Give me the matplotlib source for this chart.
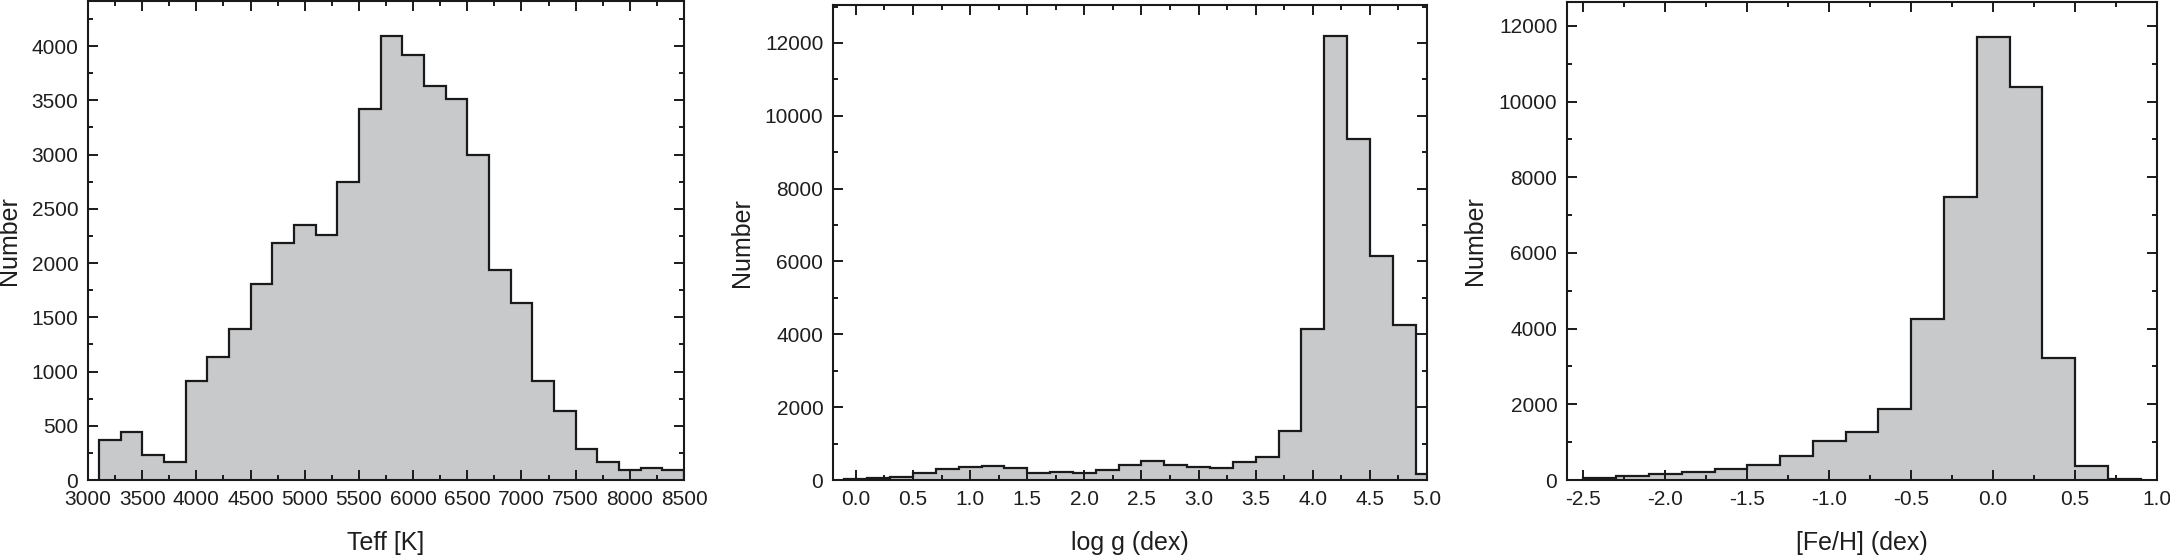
import numpy as np
import matplotlib
matplotlib.use("Agg")
import matplotlib.pyplot as plt
from matplotlib.ticker import MultipleLocator, FormatStrFormatter

plt.rcParams['font.family'] = ['Liberation Sans', 'DejaVu Sans']
plt.rcParams['axes.unicode_minus'] = False

# ---- data ----
teff_edges = np.arange(3100, 8501, 200)
teff_counts = [372, 447, 235, 166, 917, 1135, 1395, 1805, 2185, 2352, 2255, 2745,
               3420, 4088, 3918, 3635, 3514, 3000, 1940, 1627, 910, 634, 282, 169,
               95, 110, 94]

logg_edges = np.round(np.arange(-0.1, 5.11, 0.2), 2)
logg_counts = [20, 45, 90, 190, 290, 355, 385, 335, 180, 220, 205, 265, 420, 515,
               425, 370, 330, 500, 640, 1350, 4150, 12180, 9370, 6150, 4260, 170]

feh_edges = np.round(np.arange(-2.5, 0.91, 0.2), 2)
feh_counts = [50, 110, 155, 215, 280, 390, 640, 1020, 1265, 1865, 4255, 7480,
              11720, 10380, 3225, 378, 25]

xlabels = ["Teff [K]", "log g (dex)", "[Fe/H] (dex)"]
ylabel = "Number"

FILL = "#c8c9cb"
LINE = "#1a1a1a"
TEXT = "#1e1e1e"

W, H = 2170, 556
fig = plt.figure(figsize=(W / 100, H / 100), dpi=100)

# axes boxes in pixels: left, right, top, bottom
boxes = [(88, 684, 1, 480), (833, 1427, 5, 480), (1567, 2157, 2, 480)]
axes = []
for (l, r, t, b) in boxes:
    ax = fig.add_axes([l / W, 1 - b / H, (r - l) / W, (b - t) / H])
    axes.append(ax)

datasets = [(teff_edges, teff_counts), (logg_edges, logg_counts), (feh_edges, feh_counts)]
xlims = [(3000, 8500), (-0.2, 5.0), (-2.6, 1.0)]
ylims = [(0, 4415), (0, 13043), (0, 12634)]
xmaj = [500, 0.5, 0.5]
xmin = [250, 0.25, 0.25]
ymaj = [500, 2000, 2000]
ymin = [250, 1000, 1000]
xfmt = ["%d", "%.1f", "%.1f"]
ylabel_x = [-0.112, -0.133, -0.135]

for i, ax in enumerate(axes):
    edges, counts = datasets[i]
    ax.stairs(counts, edges, fill=True, color=FILL, baseline=0, zorder=1)
    ax.stairs(counts, edges, fill=False, color=LINE, lw=1.6, baseline=0, zorder=2)
    ax.set_xlim(*xlims[i])
    ax.set_ylim(*ylims[i])
    ax.xaxis.set_major_locator(MultipleLocator(xmaj[i]))
    ax.xaxis.set_minor_locator(MultipleLocator(xmin[i]))
    ax.yaxis.set_major_locator(MultipleLocator(ymaj[i]))
    ax.yaxis.set_minor_locator(MultipleLocator(ymin[i]))
    ax.xaxis.set_major_formatter(FormatStrFormatter(xfmt[i]))
    ax.tick_params(which='both', direction='in', top=True, right=True,
                   color=LINE, width=1.4)
    ax.tick_params(which='major', length=7, labelsize=15, pad=7, labelcolor=TEXT)
    ax.tick_params(which='minor', length=3.6)
    for sp in ax.spines.values():
        sp.set_linewidth(1.5)
        sp.set_color(LINE)
    ax.set_xlabel(xlabels[i], fontsize=18, color=TEXT, labelpad=16)
    ax.set_ylabel(ylabel, fontsize=18, color=TEXT)
    ax.yaxis.set_label_coords(ylabel_x[i], 0.5)

fig.savefig("out.png", dpi=100)
